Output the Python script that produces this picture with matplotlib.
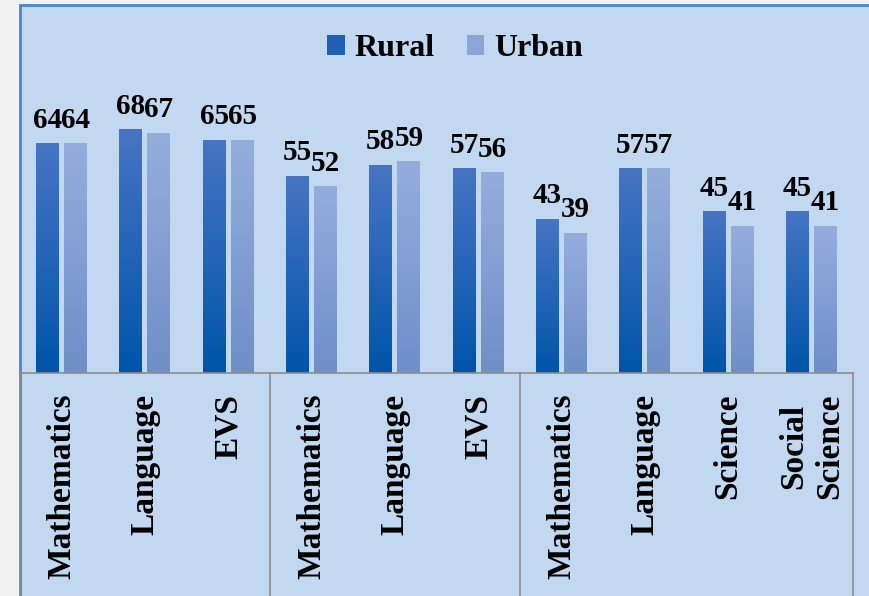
import matplotlib.pyplot as plt
import numpy as np
from matplotlib.colors import LinearSegmentedColormap
from matplotlib.patches import Rectangle, Patch

subjects = ['Mathematics', 'Language', 'EVS',
            'Mathematics', 'Language', 'EVS',
            'Mathematics', 'Language', 'Science', 'Social\nScience']
rural = [64, 68, 65, 55, 58, 57, 43, 57, 45, 45]
urban = [64, 67, 65, 52, 59, 56, 39, 57, 41, 41]
group_edges = [-0.5, 2.5, 5.5, 9.5]

bg = '#c2d8f1'
rural_cmap = LinearSegmentedColormap.from_list('r', ['#0055aa', '#4774c3'])
urban_cmap = LinearSegmentedColormap.from_list('u', ['#6f8fc9', '#95addc'])

plt.rcParams['font.family'] = 'Liberation Serif'
plt.rcParams['font.weight'] = 'bold'

fig = plt.figure(figsize=(8.69, 5.96), dpi=100, facecolor='#f2f2f2')
fig.patches.append(Rectangle((20 / 869, -0.01), 1, (596 - 5) / 596 + 0.01, transform=fig.transFigure,
                             facecolor=bg, edgecolor='#4a86d0', linewidth=2, zorder=-10))

ax = fig.add_axes([20 / 869, (596 - 373) / 596, 833 / 869, 358 / 596])
ax.set_facecolor('none')

x = np.arange(len(subjects))
w = 0.276
off = 0.168
grad = np.linspace(0, 1, 100).reshape(-1, 1)
for xs, vals, cmap in [(x - off, rural, rural_cmap), (x + off, urban, urban_cmap)]:
    for xi, v in zip(xs, vals):
        ax.imshow(grad, extent=[xi - w / 2, xi + w / 2, 0, v], origin='lower',
                  aspect='auto', cmap=cmap, zorder=2)
        ax.annotate(str(v), (xi, v), xytext=(0, 11.5), textcoords='offset points',
                    ha='center', va='baseline', fontsize=21, fontweight='bold')

ax.set_xlim(-0.5, 9.5)
ax.set_ylim(0, 100)
ax.set_yticks([])
ax.set_xticks(x)
ax.set_xticklabels(subjects, rotation=90, fontsize=24, fontweight='bold',
                   multialignment='center')
ax.tick_params(axis='x', length=0, pad=15)
for s in ['top', 'left', 'right']:
    ax.spines[s].set_visible(False)
ax.spines['bottom'].set_color('#8c8c8c')
ax.spines['bottom'].set_linewidth(1.2)

for e in group_edges:
    ax.plot([e, e], [0, -0.8], transform=ax.get_xaxis_transform(), color='#8c8c8c',
            linewidth=1.2, clip_on=False)

handles = [Patch(facecolor='#1f5fb4', label='Rural'), Patch(facecolor='#8aa5d6', label='Urban')]
fig.legend(handles=handles, loc='center', bbox_to_anchor=(455 / 869, 1 - 49 / 596), ncol=2,
           frameon=False, handlelength=0.55, handleheight=0.6,
           handletextpad=0.3, columnspacing=1.0, prop={'weight': 'bold', 'size': 23})

fig.savefig('out.png', dpi=100, facecolor=fig.get_facecolor())
